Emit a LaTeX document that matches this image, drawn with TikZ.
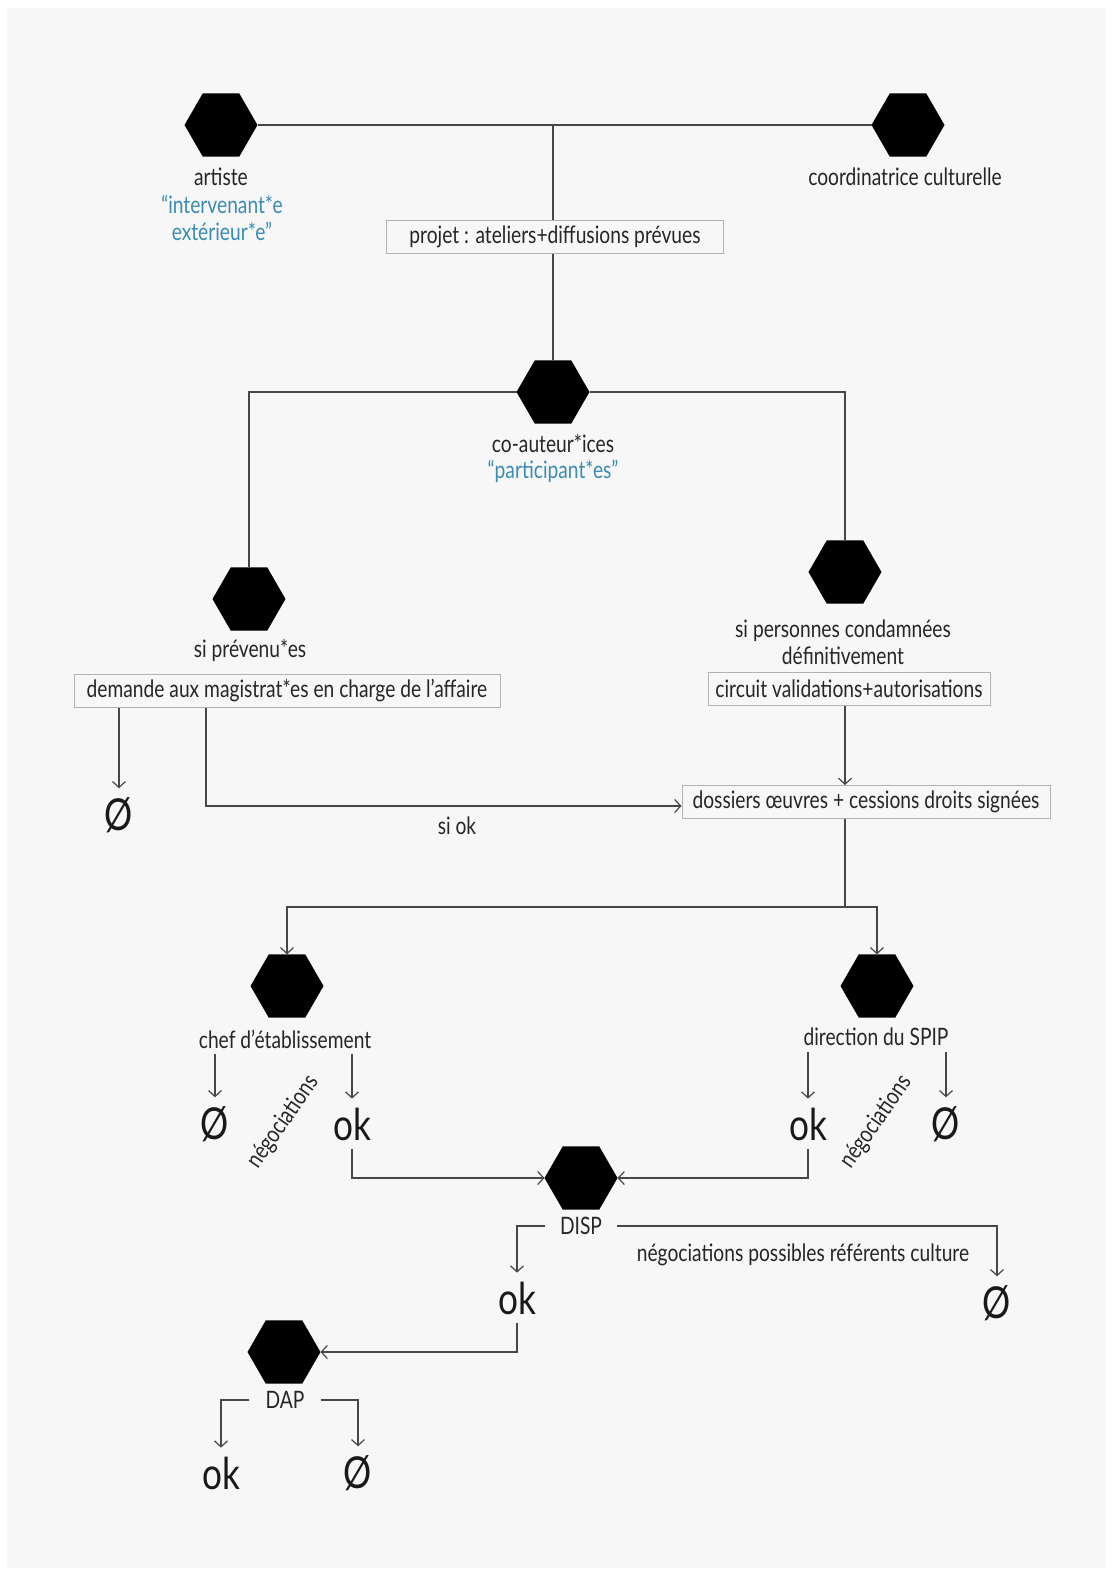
\documentclass[tikz,border=0pt]{standalone}
\usepackage{fontspec}
\setmainfont[FakeStretch=0.8]{Lato}
\usetikzlibrary{shapes.geometric,arrows.meta,positioning}
\definecolor{fond}{HTML}{F7F7F7}
\definecolor{bleu}{HTML}{3A8CB2}
\definecolor{trait}{HTML}{474747}
\tikzset{>={Straight Barb[length=6pt,width=13pt]},
  hexa/.style={regular polygon, regular polygon sides=6, fill=black, minimum size=73pt, inner sep=0pt, outer sep=0pt},
  lab/.style={font=\fontsize{24}{27}\selectfont, text=black!85, align=center, inner sep=0pt},
  boite/.style={draw=black!30, fill=fond, line width=1pt, font=\fontsize{24}{27}\selectfont, text=black!85, minimum height=33pt, inner sep=0pt},
  gros/.style={font=\fontsize{44}{44}\selectfont, text=black!90, inner sep=0pt, outer ysep=9pt},
  lien/.style={draw=trait, line width=1.2pt}}

\begin{document}
\begin{tikzpicture}[x=1pt,y=-1pt]
\useasboundingbox (0,0) rectangle (1113,1575);
\fill[fond] (7,8) rectangle (1106,1568);

\node[hexa] (A) at (221,125) {};
\node[hexa] (C) at (908,125) {};
\node[lab] (lA) at (221,177) {artiste};
\node[lab, text=bleu] (bA) at (222,218) {“intervenant*e\\extérieur*e”};
\node[lab] (lC) at (905,177) {coordinatrice culturelle};
\node[boite, minimum width=337pt] (P) at (555,237) {projet : ateliers+diffusions prévues};

\node[hexa] (CA) at (553,392) {};
\node[lab] (lCA) at (553,444) {co-auteur*ices};
\node[lab, text=bleu] (bCA) at (553,471) {“participant*es”};

\node[hexa] (PR) at (249,599) {};
\node[lab] (lPR) at (250,651) {si prévenu*es};
\node[boite, minimum width=426pt] (M) at (287,691) {demande aux magistrat*es en charge de l’affaire};
\node[gros] (V1) at (119,815) {Ø};

\node[hexa] (CO) at (845,572) {};
\node[lab] (lCO) at (843,642) {si personnes condamnées\\définitivement};
\node[boite, minimum width=282pt] (CV) at (849,689) {circuit validations+autorisations};
\node[boite, minimum width=368pt] (D) at (866,802) {dossiers œuvres + cessions droits signées};
\node[lab] (siok) at (457,826) {si ok};

\node[hexa] (CE) at (287,986) {};
\node[lab, inner ysep=6pt] (lCE) at (285,1039) {chef d’établissement};
\node[gros] (V2) at (215,1124) {Ø};
\node[gros] (K1) at (352,1124) {ok};
\node[lab, rotate=55] (n1) at (283,1122) {négociations};

\node[hexa] (S) at (877,986) {};
\node[lab, inner ysep=6pt] (lS) at (876,1037) {direction du SPIP};
\node[gros] (K2) at (808,1124) {ok};
\node[gros] (V3) at (946,1124) {Ø};
\node[lab, rotate=55] (n2) at (876,1122) {négociations};

\node[hexa] (DI) at (581,1178) {};
\node[lab, inner xsep=15pt] (lDI) at (581,1226) {DISP};
\node[gros] (K3) at (517,1298) {ok};
\node[gros] (V4) at (997,1303) {Ø};
\node[lab] (np) at (803,1255) {négociations possibles référents culture};

\node[hexa] (DA) at (284,1352) {};
\node[lab, inner xsep=16pt] (lDA) at (285,1400) {DAP};
\node[gros] (K4) at (221,1473) {ok};
\node[gros] (V5) at (358,1473) {Ø};

\coordinate (F) at (845,907);

\draw[lien] (A.east) -- (C.west);
\draw[lien] (A.east -| CA) -- (P.north -| CA);
\draw[lien] (P.south -| CA) -- (CA.north);
\draw[lien] (CA.west) -| (PR.north);
\draw[lien] (CA.east) -| (CO.north);
\draw[lien,->] (M.south -| V1) -- (V1.north);
\draw[lien,->] ([xshift=-81pt]M.south) |- ([yshift=-4pt]D.west);
\draw[lien,->] (CV.south -| CO) -- (D.north -| CO);
\draw[lien] (D.south -| F) -- (F);
\draw[lien,->] (F) -| (CE.north);
\draw[lien,->] (F) -| (S.north);
\draw[lien,->] (lCE.south -| V2) -- (V2.north);
\draw[lien,->] (lCE.south -| K1) -- (K1.north);
\draw[lien,->] (lS.south -| K2) -- (K2.north);
\draw[lien,->] (lS.south -| V3) -- (V3.north);
\draw[lien,->] (K1.south) |- (DI.west);
\draw[lien,->] (K2.south) |- (DI.east);
\draw[lien,->] (lDI.west) -| (K3.north);
\draw[lien,->] (lDI.east) -| (V4.north);
\draw[lien,->] (K3.south) |- (DA.east);
\draw[lien,->] (lDA.west) -| (K4.north);
\draw[lien,->] (lDA.east) -| (V5.north);
\end{tikzpicture}
\end{document}
